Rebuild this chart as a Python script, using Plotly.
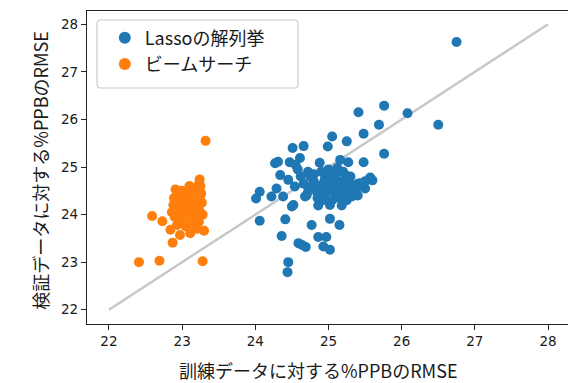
import plotly.graph_objects as go

# Lasso で列挙した解: (訓練RMSE, 検証RMSE)
lasso_train = [
    26.75, 25.76, 25.41, 26.08, 25.69, 26.50, 25.48, 25.05, 25.25, 24.66,
    24.51, 24.99, 25.76, 24.61, 24.27, 24.31, 24.47, 24.88, 25.48, 25.27,
    25.16, 24.72, 24.34, 25.57, 25.43, 24.06, 24.01, 24.22, 24.38, 24.29,
    24.50, 24.86, 25.18, 25.02, 24.06, 24.41, 24.77, 25.02, 25.15, 24.36,
    24.59, 24.64, 24.69, 24.86, 24.97, 24.93, 25.02, 24.45, 24.44, 25.34,
    25.45, 24.45, 24.54, 24.68, 24.52, 24.55, 25.60, 25.50, 25.40,
    24.75, 24.80, 24.85, 24.90, 24.95, 25.00, 25.05, 25.10, 25.15, 25.20,
    25.25, 25.30, 25.35, 25.40, 24.80, 24.90, 25.00, 25.10, 25.20, 25.30,
    24.85, 24.95, 25.05, 25.15, 25.25, 24.70, 24.75, 25.12, 24.98, 25.08,
    25.18, 25.28, 24.88, 25.38, 25.45, 25.50, 25.02, 24.92, 25.22, 25.32,
    24.62, 24.58, 24.66, 24.78, 25.12, 24.82, 24.94, 25.06, 25.24, 24.72,
]
lasso_valid = [
    27.63, 26.29, 26.15, 26.13, 25.89, 25.89, 25.70, 25.64, 25.54, 25.44,
    25.40, 25.43, 25.28, 25.19, 25.08, 25.11, 25.10, 25.09, 25.10, 25.10,
    25.15, 24.90, 24.83, 24.78, 24.66, 24.48, 24.34, 24.38, 24.38, 24.55,
    24.17, 24.19, 24.19, 24.20, 23.87, 23.90, 23.78, 23.91, 23.78, 23.55,
    23.40, 23.36, 23.32, 23.53, 23.53, 23.33, 23.26, 23.00, 22.79, 24.45,
    24.59, 24.73, 24.59, 24.38, 24.20, 25.05, 24.72, 24.55, 24.40,
    24.55, 24.70, 24.45, 24.60, 24.75, 24.50, 24.65, 24.40, 24.55, 24.70,
    24.50, 24.60, 24.45, 24.65, 24.85, 24.90, 24.95, 24.85, 24.90, 24.80,
    24.35, 24.40, 24.30, 24.35, 24.30, 24.40, 24.80, 24.72, 24.58, 24.52,
    24.62, 24.72, 24.52, 24.55, 24.60, 24.70, 24.82, 24.30, 24.42, 24.38,
    24.80, 24.95, 24.65, 24.62, 24.98, 24.55, 24.68, 24.78, 24.82, 24.48,
]

# ビームサーチで得た解
beam_train = [
    23.32, 22.41, 22.69, 23.28, 22.59, 22.87, 22.97, 22.73, 22.84, 23.11,
    23.23, 23.30, 22.91, 23.24, 23.22,
    22.90, 22.95, 23.00, 23.05, 23.10, 23.15, 23.20, 23.25, 22.92, 22.98,
    23.03, 23.08, 23.13, 23.18, 23.23, 23.27, 22.95, 23.05, 23.15, 23.20,
    23.00, 23.10, 23.18, 23.25, 22.88, 22.94, 23.02, 23.12, 23.22, 23.07,
    22.97, 23.26, 23.28, 23.16, 23.04, 22.90, 22.86, 22.93, 23.20, 22.89,
]
beam_valid = [
    25.55, 23.00, 23.03, 23.02, 23.97, 23.41, 23.57, 23.86, 23.68, 23.61,
    23.85, 23.66, 24.53, 24.74, 24.62,
    24.30, 24.40, 24.20, 24.35, 24.45, 24.30, 24.50, 24.40, 24.10, 24.00,
    23.90, 24.10, 24.00, 24.20, 24.10, 24.25, 23.85, 23.75, 23.80, 23.95,
    24.50, 24.60, 24.55, 24.60, 24.20, 23.95, 24.28, 24.18, 24.32, 23.98,
    24.15, 24.45, 24.00, 23.90, 24.42, 23.95, 24.05, 23.78, 23.70, 24.35,
]

# y = x の参照線
diag = [22, 28]

LABEL_FONT = "Noto Sans CJK JP"
TICK_FONT = "DejaVu Sans"
TEXT = "#1a1a1a"

fig = go.Figure()
fig.add_trace(go.Scatter(
    x=diag, y=diag, mode="lines",
    line=dict(color="#c8c8c8", width=2.5),
    showlegend=False, hoverinfo="skip",
))
fig.add_trace(go.Scatter(
    x=lasso_train, y=lasso_valid, mode="markers", name="Lassoの解列挙",
    marker=dict(color="#1f77b4", size=10, line=dict(width=0)),
))
fig.add_trace(go.Scatter(
    x=beam_train, y=beam_valid, mode="markers", name="ビームサーチ",
    marker=dict(color="#ff7f0e", size=10, line=dict(width=0)),
))

axis_common = dict(
    showgrid=False, zeroline=False, showline=True, linecolor="#222",
    linewidth=1.2, ticks="outside", ticklen=5, tickwidth=1.1,
    tickcolor="#222", tickfont=dict(family=TICK_FONT, size=13.5, color=TEXT),
    dtick=1, tick0=22,
)

# 凡例の枠 (角丸)
x0, x1, y0, y1 = 0.0208, 0.4387, 0.754, 0.9712
r = 0.008
ry = r * 481 / 313
legend_box = (
    f"M {x0 + r},{y0} L {x1 - r},{y0} Q {x1},{y0} {x1},{y0 + ry} "
    f"L {x1},{y1 - ry} Q {x1},{y1} {x1 - r},{y1} "
    f"L {x0 + r},{y1} Q {x0},{y1} {x0},{y1 - ry} "
    f"L {x0},{y0 + ry} Q {x0},{y0} {x0 + r},{y0} Z"
)

fig.update_layout(
    width=568, height=383,
    margin=dict(l=87, r=0, t=11, b=59),
    paper_bgcolor="white", plot_bgcolor="white",
    xaxis=dict(range=[21.70, 28.273], mirror=True, **axis_common),
    yaxis=dict(range=[21.70, 28.28], **axis_common),
    shapes=[dict(
        type="path", path=legend_box, xref="paper", yref="paper",
        fillcolor="rgba(255,255,255,0.85)", line=dict(color="#cccccc", width=1.2),
        layer="above",
    )],
    legend=dict(
        x=0.037, y=0.973, xanchor="left", yanchor="top",
        bgcolor="rgba(0,0,0,0)", borderwidth=0,
        font=dict(family=LABEL_FONT, size=18, color=TEXT),
        itemsizing="constant", tracegroupgap=0,
    ),
    annotations=[
        dict(text="訓練データに対する%PPBのRMSE", xref="paper", yref="paper",
             x=0.482, y=-0.147, xanchor="center", yanchor="middle",
             showarrow=False, borderpad=0,
             font=dict(family=LABEL_FONT, size=18, color=TEXT)),
        dict(text="検証データに対する%PPBのRMSE", xref="paper", yref="paper",
             x=-0.0977, y=0.49, xanchor="center", yanchor="middle", textangle=-90,
             showarrow=False, borderpad=0,
             font=dict(family=LABEL_FONT, size=18, color=TEXT)),
    ],
)

fig.write_html("out.html")
